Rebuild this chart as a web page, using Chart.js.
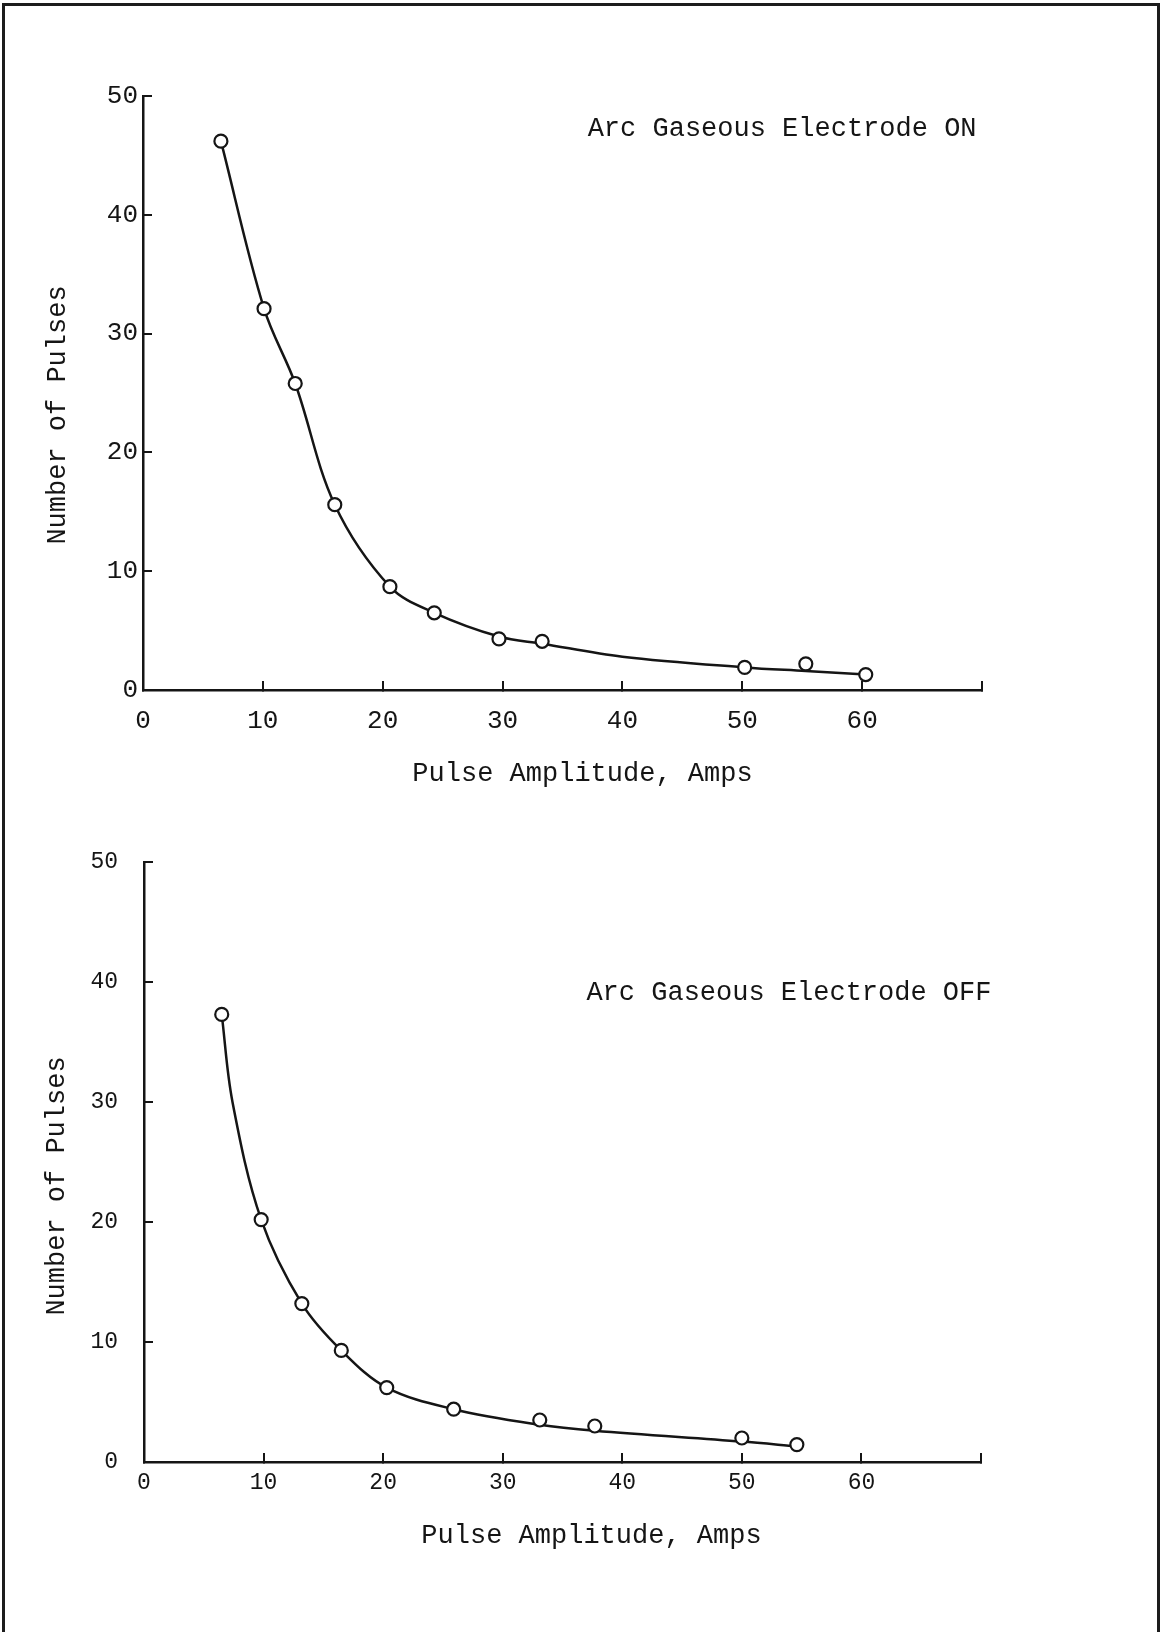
<!DOCTYPE html>
<html>
<head>
<meta charset="utf-8">
<title>Number of Pulses vs Pulse Amplitude</title>
<script src="https://cdn.jsdelivr.net/npm/chart.js@4.4.1/dist/chart.umd.min.js"></script>
<style>
  body { margin: 0; background: #fff; }
  #page { position: relative; width: 1163px; height: 1632px; overflow: hidden; }
  #frame { position: absolute; left: 2px; top: 3px; width: 1152px; height: 1700px; border: 3px solid #1c1c1c; border-bottom: none; }
  canvas { position: absolute; left: 0; }
  #chart_on { top: 0; }
  #chart_off { top: 800px; }
</style>
</head>
<body>
<div id="page">
  <div id="frame"></div>
  <canvas id="chart_on" width="1163" height="800"></canvas>
  <canvas id="chart_off" width="1163" height="800"></canvas>
</div>
<script>
// Arc gaseous electrode ON
const ampsOn = [6.5, 10.1, 12.7, 16.0, 20.6, 24.3, 29.7, 33.3, 50.2, 55.3, 60.3];
const pulsesOn = [46.2, 32.1, 25.8, 15.6, 8.7, 6.5, 4.3, 4.1, 1.9, 2.2, 1.3];
// hand drawn curve through them
const curveAmpsOn = [6.5, 10.1, 12.7, 16.0, 20.6, 24.3, 29.7, 33.3, 40, 50.2, 55.3, 60.3];
const curveOn = [46.2, 32.1, 25.8, 15.6, 8.7, 6.5, 4.5, 3.9, 2.8, 1.9, 1.6, 1.3];

// Arc gaseous electrode OFF
const ampsOff = [6.5, 9.8, 13.2, 16.5, 20.3, 25.9, 33.1, 37.7, 50.0, 54.6];
const pulsesOff = [37.3, 20.2, 13.2, 9.3, 6.2, 4.4, 3.5, 3.0, 2.0, 1.45];
const curveAmpsOff = [6.5, 7.4, 9.8, 13.2, 16.5, 20.3, 25.9, 33.1, 37.7, 50.0, 54.6];
const curveOff = [37.3, 30, 20.2, 13.2, 9.3, 6.2, 4.4, 3.1, 2.6, 1.7, 1.3];

// axis labels
const ampTicks = [0, 10, 20, 30, 40, 50, 60];
const pulseTicks = [0, 10, 20, 30, 40, 50];

const FONT = "'Liberation Mono', 'DejaVu Sans Mono', monospace";
const INK = '#151515';

// note inside the plot + the two axis titles
const captions = {
  id: 'captions',
  afterDraw(chart, args, opts) {
    const ctx = chart.ctx;
    const a = chart.chartArea;
    ctx.save();
    ctx.fillStyle = INK;
    ctx.font = opts.size + 'px ' + FONT;
    ctx.textBaseline = 'middle';
    ctx.textAlign = 'left';
    ctx.fillText(opts.note, chart.scales.x.getPixelForValue(opts.noteAt[0]), chart.scales.y.getPixelForValue(opts.noteAt[1]));
    ctx.textAlign = 'center';
    ctx.fillText(opts.xTitle, (a.left + a.right) / 2 + opts.xShift, a.bottom + opts.xGap);
    ctx.translate(a.left - opts.yGap, (a.top + a.bottom) / 2 + opts.yShift);
    ctx.rotate(-Math.PI / 2);
    ctx.fillText(opts.yTitle, 0, 0);
    ctx.restore();
  }
};

function pulseChart(canvas, amps, pulses, curveAmps, curve, look) {
  return new Chart(canvas, {
    type: 'scatter',
    data: {
      datasets: [{
        label: 'Measured',
        data: amps.map((a, i) => ({ x: a, y: pulses[i] })),
        pointRadius: 6.5,
        pointBorderWidth: 2.2,
        pointBackgroundColor: '#fff',
        pointBorderColor: INK
      }, {
        label: 'Curve',
        data: curveAmps.map((a, i) => ({ x: a, y: curve[i] })),
        showLine: true,
        borderColor: INK,
        borderWidth: 2.5,
        pointRadius: 0,
        tension: 0.35
      }]
    },
    options: {
      responsive: false,
      animation: false,
      devicePixelRatio: 1,
      layout: { padding: look.padding },
      plugins: {
        legend: { display: false },
        tooltip: { enabled: false },
        captions: look.captions
      },
      scales: {
        x: {
          type: 'linear',
          min: 0,
          max: 70,
          afterFit: s => { s.height = look.xHeight; },
          border: { color: INK, width: 2.5 },
          grid: { drawOnChartArea: false, tickLength: -9, color: INK, lineWidth: 2 },
          ticks: {
            stepSize: 10,
            padding: look.xPad,
            color: INK,
            font: { family: FONT, size: look.tickSize },
            callback: v => ampTicks.includes(v) ? v : ''
          }
        },
        y: {
          min: 0,
          max: 50,
          afterFit: s => { s.width = look.yWidth; },
          border: { color: INK, width: 2.5 },
          grid: { drawOnChartArea: false, tickLength: -9, color: INK, lineWidth: 2 },
          ticks: {
            stepSize: 10,
            padding: look.yPad,
            color: INK,
            font: { family: FONT, size: look.tickSize },
            callback: v => pulseTicks.includes(v) ? v : ''
          }
        }
      }
    },
    plugins: [captions]
  });
}

pulseChart(document.getElementById('chart_on'), ampsOn, pulsesOn, curveAmpsOn, curveOn, {
  padding: { left: 0, right: 181, top: 96, bottom: 0 },
  xHeight: 110, yWidth: 143, xPad: 25, yPad: 14, tickSize: 26,
  captions: {
    size: 27, note: 'Arc Gaseous Electrode ON', noteAt: [37.1, 47.2],
    xTitle: 'Pulse Amplitude, Amps', xShift: 20, xGap: 84,
    yTitle: 'Number of Pulses', yShift: 22, yGap: 85
  }
});

pulseChart(document.getElementById('chart_off'), ampsOff, pulsesOff, curveAmpsOff, curveOff, {
  padding: { left: 0, right: 182, top: 62, bottom: 0 },
  xHeight: 138, yWidth: 144, xPad: 16, yPad: 35, tickSize: 23,
  captions: {
    size: 27, note: 'Arc Gaseous Electrode OFF', noteAt: [37.0, 39.1],
    xTitle: 'Pulse Amplitude, Amps', xShift: 29, xGap: 74,
    yTitle: 'Number of Pulses', yShift: 24, yGap: 87
  }
});
</script>
</body>
</html>
